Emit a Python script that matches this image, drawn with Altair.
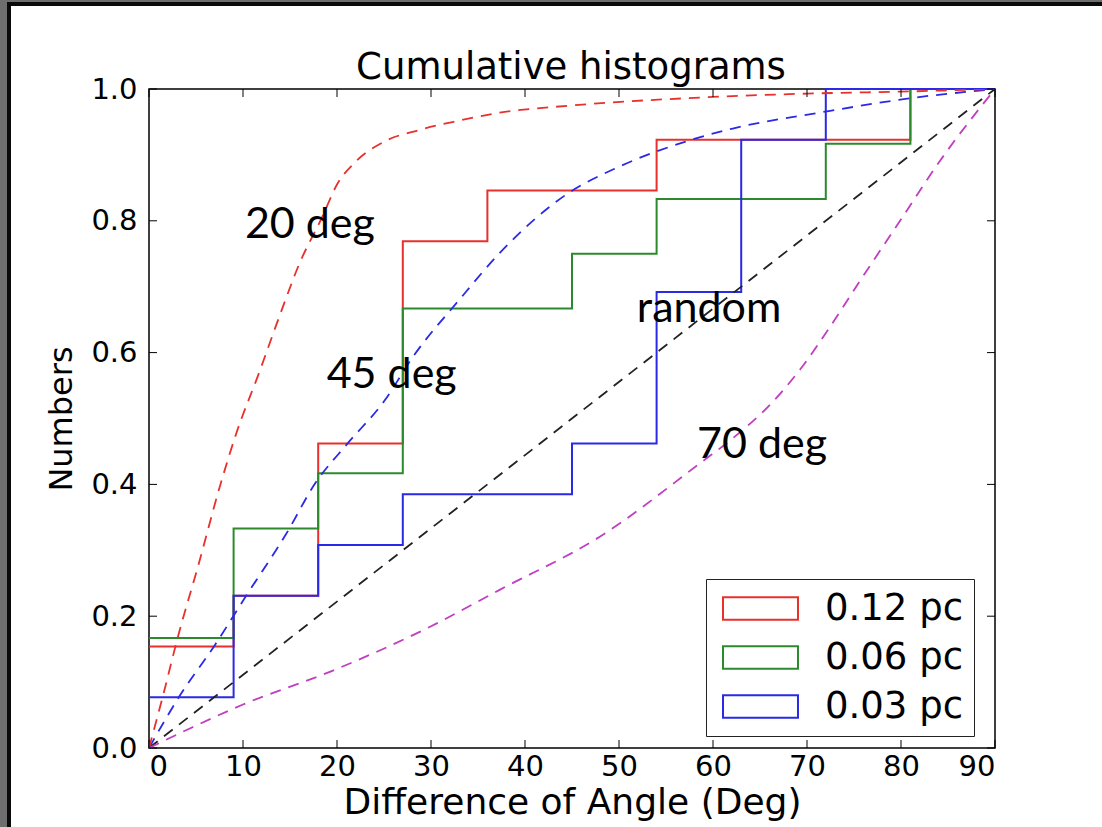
import altair as alt
import pandas as pd

# ---------------- data ----------------
bin_edges = [0, 9, 18, 27, 36, 45, 54, 63, 72, 81, 90]
red_cum = [0.154, 0.231, 0.462, 0.769, 0.846, 0.846, 0.923, 0.923, 0.923, 1.0]
green_cum = [0.167, 0.333, 0.417, 0.667, 0.667, 0.750, 0.833, 0.833, 0.917, 1.0]
blue_cum = [0.077, 0.231, 0.308, 0.385, 0.385, 0.462, 0.692, 0.923, 1.0, 1.0]
series_names = ["0.12 pc", "0.06 pc", "0.03 pc"]

c20_x = [0, 1.5, 3.1, 5.2, 7.6, 9.3, 11.7, 14, 16, 18.4, 20, 22, 25, 28.8, 33, 37.3, 45, 58.6, 70, 80, 90]
c20_y = [0, 0.08, 0.17, 0.275, 0.40, 0.478, 0.569, 0.66, 0.735, 0.805, 0.855, 0.89, 0.92, 0.938, 0.952, 0.964, 0.975, 0.987, 0.993, 0.996, 1.0]

c45_x = [0, 3.3, 7, 10.2, 14.6, 17.7, 21, 25.1, 28.1, 33, 37.3, 44.4, 50, 57.5, 62.1, 72.1, 81, 90]
c45_y = [0, 0.08, 0.156, 0.228, 0.325, 0.402, 0.46, 0.528, 0.594, 0.68, 0.751, 0.84, 0.882, 0.922, 0.94, 0.966, 0.986, 1.0]

c70_x = [0, 4.4, 10, 19.3, 29.9, 37.3, 48, 58.6, 62.1, 66, 69.3, 72.4, 75.6, 79.9, 84.1, 90]
c70_y = [0, 0.03, 0.066, 0.116, 0.184, 0.24, 0.321, 0.432, 0.47, 0.52, 0.575, 0.638, 0.708, 0.80, 0.89, 1.0]

rand_x = [0, 90]
rand_y = [0, 1]

x_ticks = [0, 10, 20, 30, 40, 50, 60, 70, 80, 90]
y_ticks = [0.0, 0.2, 0.4, 0.6, 0.8, 1.0]

annotations = [
    ("20 deg", 10.2, 0.774),
    ("45 deg", 18.9, 0.546),
    ("random", 51.9, 0.646),
    ("70 deg", 58.3, 0.44),
]
title_text = "Cumulative histograms"

# ---------------- tables ----------------
rows = []
for name, vals in zip(series_names, [red_cum, green_cum, blue_cum]):
    for i, e in enumerate(bin_edges):
        v = vals[min(i, len(vals) - 1)]
        rows.append({"series": name, "x": e, "y": v})
steps = pd.DataFrame(rows)

W, H = 846, 659
PAD_L, PAD_T = 149, 89
FONT = "DejaVu Sans"
COLORS = ["#e8302c", "#2b8a2b", "#2a2ae6"]

xs = alt.Scale(domain=[0, 90], nice=False, zero=False)
ys = alt.Scale(domain=[0, 1], nice=False, zero=False)

x_axis = alt.Axis(values=x_ticks, format="d", ticks=False, grid=False, domain=False,
                  labelFont=FONT, labelFontSize=29, labelColor="black", labelPadding=4,
                  title="Difference of Angle (Deg)", titleFont=FONT, titleFontSize=36,
                  titleFontWeight="normal", titleColor="black", titlePadding=4)
y_axis = alt.Axis(values=y_ticks, format=".1f", ticks=False, grid=False, domain=False,
                  labelFont=FONT, labelFontSize=29, labelColor="black", labelPadding=12,
                  title="Numbers", titleFont=FONT, titleFontSize=32,
                  titleFontWeight="normal", titleColor="black", titlePadding=12)

step_layer = alt.Chart(steps).mark_line(interpolate="step-after", strokeWidth=2).encode(
    x=alt.X("x:Q", scale=xs, axis=x_axis),
    y=alt.Y("y:Q", scale=ys, axis=y_axis),
    color=alt.Color("series:N",
                    scale=alt.Scale(domain=series_names, range=COLORS),
                    sort=series_names,
                    legend=alt.Legend(title=None, orient="none", legendX=557, legendY=490,
                                      symbolType="M-3.333,-1L3.333,-1L3.333,1L-3.333,1Z",
                                      symbolSize=506, symbolStrokeWidth=2,
                                      symbolOffset=25,
                                      labelFont=FONT, labelFontSize=37, labelColor="black",
                                      labelOffset=46, rowPadding=11, padding=11,
                                      strokeColor="#222", fillColor="white",
                                      cornerRadius=0)),
    detail="series:N",
)


def dashed(xv, yv, color):
    df = pd.DataFrame({"x": xv, "y": yv})
    return alt.Chart(df).mark_line(interpolate="monotone", strokeWidth=1.8,
                                   strokeDash=[11, 8], color=color, clip=True).encode(
        x=alt.X("x:Q", scale=xs), y=alt.Y("y:Q", scale=ys))


curves = [
    dashed(rand_x, rand_y, "#222222"),
    dashed(c70_x, c70_y, "#bf3fbf"),
    dashed(c45_x, c45_y, "#2a2ae6"),
    dashed(c20_x, c20_y, "#e8302c"),
]

# inward ticks on all four sides
xt = pd.DataFrame({"t": x_ticks})
yt = pd.DataFrame({"t": y_ticks})
tick_bottom = alt.Chart(xt).mark_rule(color="black", strokeWidth=1).encode(
    x=alt.X("t:Q", scale=xs), y=alt.value(H), y2=alt.value(H - 8))
tick_top = alt.Chart(xt).mark_rule(color="black", strokeWidth=1).encode(
    x=alt.X("t:Q", scale=xs), y=alt.value(0), y2=alt.value(8))
tick_left = alt.Chart(yt).mark_rule(color="black", strokeWidth=1).encode(
    y=alt.Y("t:Q", scale=ys), x=alt.value(0), x2=alt.value(8))
tick_right = alt.Chart(yt).mark_rule(color="black", strokeWidth=1).encode(
    y=alt.Y("t:Q", scale=ys), x=alt.value(W), x2=alt.value(W - 8))

ann = pd.DataFrame(annotations, columns=["label", "x", "y"])
text_layer = alt.Chart(ann).mark_text(font="Lato", fontSize=43, align="left",
                                      baseline="alphabetic", color="black").encode(
    x=alt.X("x:Q", scale=xs), y=alt.Y("y:Q", scale=ys), text="label:N")

title_layer = alt.Chart(pd.DataFrame({"t": [title_text]})).mark_text(
    font=FONT, fontSize=37, align="center", baseline="alphabetic", color="black", clip=False
).encode(x=alt.value(W / 2 - 1), y=alt.value(-10), text="t:N")

# dark frame at top and left of the picture
one = pd.DataFrame({"a": [0]})
frame = [
    alt.Chart(one).mark_rect(color="#6e6e6e", clip=False).encode(
        x=alt.value(-PAD_L), x2=alt.value(-PAD_L + 7), y=alt.value(-PAD_T), y2=alt.value(827 - PAD_T)),
    alt.Chart(one).mark_rect(color="#6e6e6e", clip=False).encode(
        x=alt.value(-PAD_L), x2=alt.value(1102 - PAD_L), y=alt.value(-PAD_T), y2=alt.value(-PAD_T + 2)),
    alt.Chart(one).mark_rect(color="#0a0a0a", clip=False).encode(
        x=alt.value(-PAD_L + 7), x2=alt.value(-PAD_L + 11), y=alt.value(-PAD_T + 2), y2=alt.value(827 - PAD_T)),
    alt.Chart(one).mark_rect(color="#0a0a0a", clip=False).encode(
        x=alt.value(-PAD_L + 7), x2=alt.value(1102 - PAD_L), y=alt.value(-PAD_T + 2), y2=alt.value(-PAD_T + 6)),
]

chart = alt.layer(step_layer, *curves, tick_bottom, tick_top, tick_left, tick_right,
                  text_layer, title_layer, *frame).properties(
    width=W, height=H,
    autosize=alt.AutoSizeParams(type="none"),
    padding={"left": PAD_L, "top": PAD_T, "right": 1102 - PAD_L - W, "bottom": 827 - PAD_T - H},
    background="white",
).configure_view(stroke="black", strokeWidth=1.5)

chart.save("out.html", embed_options={"renderer": "svg", "actions": False})
